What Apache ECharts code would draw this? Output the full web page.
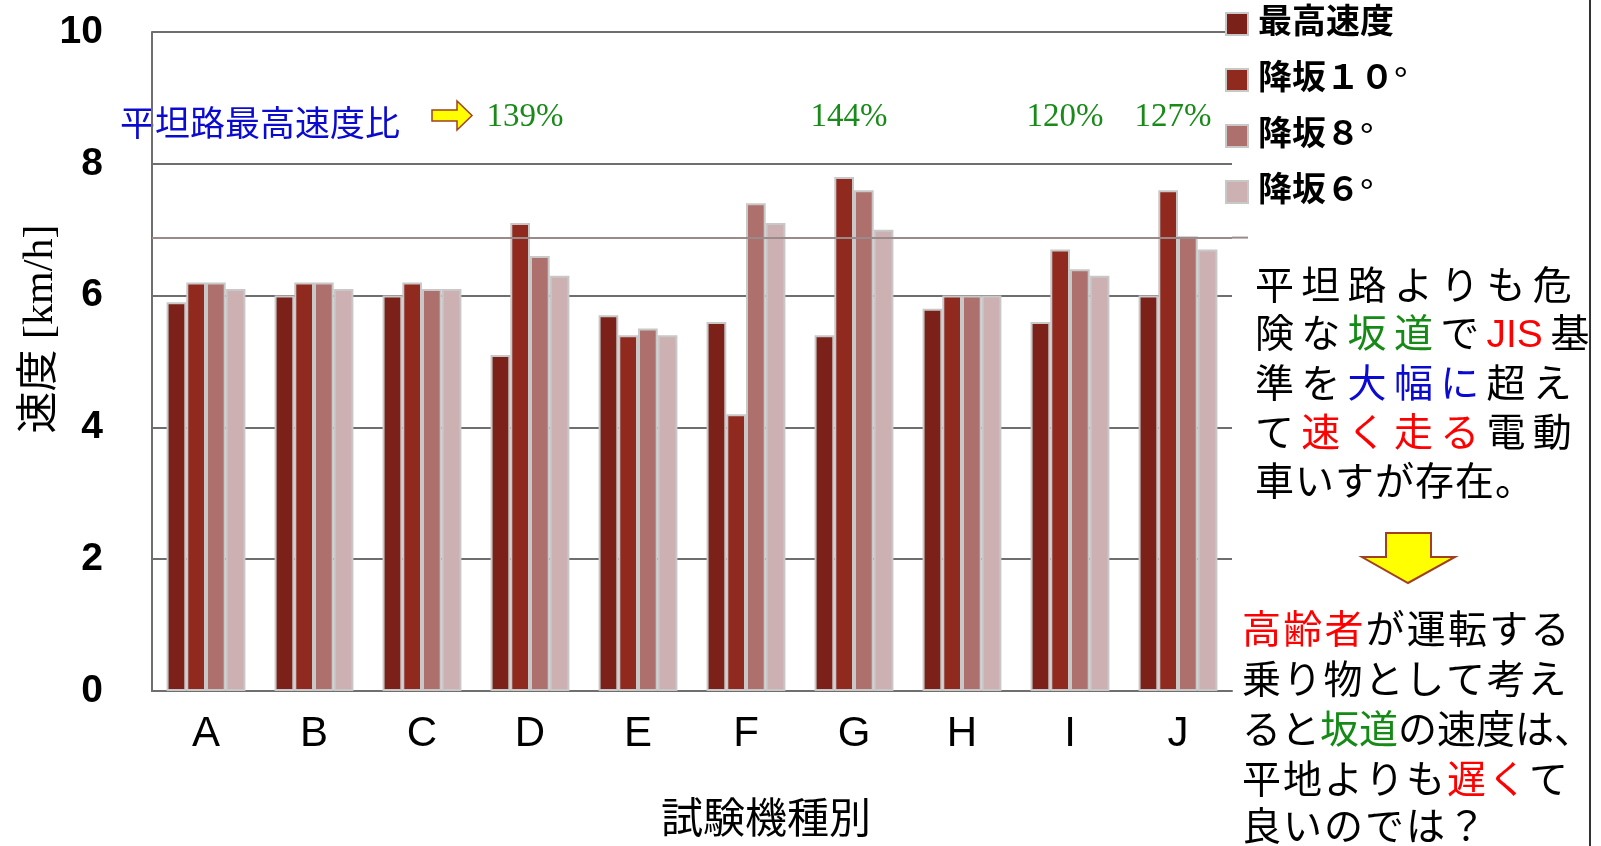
<!DOCTYPE html>
<html><head><meta charset="utf-8">
<script src="https://cdn.jsdelivr.net/npm/echarts@6/dist/echarts.min.js"></script>
<style>html,body{margin:0;padding:0;background:#fff}#c{width:1601px;height:846px}</style>
</head><body><div id="c"></div>
<script>
const categories = ['A','B','C','D','E','F','G','H','I','J'];
const seriesNames = ['最高速度','降坂１０°','降坂８°','降坂６°'];
const maxSpeed = [5.9,6.0,6.0,5.1,5.7,5.6,5.4,5.8,5.6,6.0];
const down10   = [6.2,6.2,6.2,7.1,5.4,4.2,7.8,6.0,6.7,7.6];
const down8    = [6.2,6.2,6.1,6.6,5.5,7.4,7.6,6.0,6.4,6.9];
const down6    = [6.1,6.1,6.1,6.3,5.4,7.1,7.0,6.0,6.3,6.7];
const referenceLine = 6.88;
const ratioCategories = ['D','G','I','J'];
const ratioLabels = ['139%','144%','120%','127%'];
const yMin = 0, yMax = 10, yInterval = 2;

const colors = ['#7b2119','#912a1e','#ad706c','#cdb0b1'];
const seriesData = [maxSpeed, down10, down8, down6];
const CJK = "'Noto Sans CJK JP'";
const SERIF = "'Liberation Serif','Noto Sans CJK JP'";
const SANS = "'Liberation Sans','Noto Sans CJK JP'";

const chart = echarts.init(document.getElementById('c'), null, {renderer:'canvas'});

const series = seriesNames.map((n,i)=>({
  name:n, type:'bar', data:seriesData[i],
  barGap:'0%', barCategoryGap:'27%',
  itemStyle:{color:colors[i], borderColor:'#c8c8c8', borderWidth:2},
  markLine: i===0 ? {symbol:'none', silent:true, label:{show:false},
    lineStyle:{color:'#9a8a8a', width:2, type:'solid'},
    data:[{yAxis:referenceLine}]} : undefined
}));

chart.setOption({
  animation:false,
  backgroundColor:'#fff',
  grid:{left:152, top:32, right:369, bottom:155, containLabel:false},
  legend:{
    orient:'vertical', left:1225, top:7, padding:0, itemWidth:22, itemHeight:22, itemGap:22,
    icon:'rect', data:seriesNames,
    textStyle:{fontSize:34, fontWeight:'bold', fontFamily:SERIF, color:'#000', padding:[0,0,0,5]}
  },
  xAxis:{type:'category', data:categories,
    axisLine:{lineStyle:{color:'#6e6e6e', width:2}},
    axisTick:{show:false},
    axisLabel:{fontSize:42, fontFamily:SANS, color:'#000', margin:22}
  },
  yAxis:{type:'value', min:yMin, max:yMax, interval:yInterval,
    axisLine:{show:true, lineStyle:{color:'#6e6e6e', width:2}},
    axisTick:{show:false},
    splitLine:{lineStyle:{color:'#6e6e6e', width:2}},
    axisLabel:{fontSize:39, fontWeight:'bold', fontFamily:SANS, color:'#000', margin:49}
  },
  series: series
});

const g = [];
g.push({type:'text', x:41, y:329, rotation:Math.PI/2,
  style:{text:'速度 [km/h]', fontSize:42, fontFamily:SERIF, fill:'#000', align:'center', verticalAlign:'middle'}});
g.push({type:'text', x:766, y:817,
  style:{text:'試験機種別', fontSize:42, fontFamily:CJK, fill:'#000', align:'center', verticalAlign:'middle'}});
g.push({type:'text', x:120, y:123,
  style:{text:'平坦路最高速度比', fontSize:35, fontFamily:CJK, fill:'#0a0ad0', align:'left', verticalAlign:'middle'}});
g.push({type:'polygon', shape:{points:[[432,110],[457,110],[457,101],[472,115.5],[457,130],[457,121],[432,121]]},
  style:{fill:'#ffff00', stroke:'#a04020', lineWidth:1.5}});
ratioCategories.forEach((c,i)=>{
  const p = chart.convertToPixel({xAxisIndex:0}, c);
  g.push({type:'text', x:p - 5, y:117,
    style:{text:ratioLabels[i], fontSize:33, fontFamily:SERIF, fill:'#1a8a1a', align:'center', verticalAlign:'middle'}});
});
const ry = chart.convertToPixel({yAxisIndex:0}, referenceLine);
g.push({type:'line', shape:{x1:1232, y1:ry, x2:1248, y2:ry}, style:{stroke:'#9a8a8a', lineWidth:2}});
g.push({type:'line', shape:{x1:1590, y1:0, x2:1590, y2:846}, style:{stroke:'#333', lineWidth:2}});
g.push({type:'polygon', shape:{points:[[1386,533],[1431,533],[1431,557],[1455,557],[1408,583],[1362,557],[1386,557]]},
  style:{fill:'#ffff00', stroke:'#a04020', lineWidth:2}});

const K='#000', R='#ff0000', G='#168a16', B='#0a0ad0';
function line(tokens, x0, pitch, y){
  let x = x0;
  tokens.forEach(t=>{
    const [txt,col,w] = t;
    for (const ch of (w ? [txt] : Array.from(txt))) {
      g.push({type:'text', x:x, y:y, style:{text:ch, fontSize:39, fontFamily:SANS, fill:col, align:'left', verticalAlign:'middle'}});
      x += w ? w : pitch;
    }
  });
}
line([['平坦路よりも危',K]], 1255, 46.3, 288);
line([['険な',K],['坂道',G],['で',K],['JIS',R,64],['基',K]], 1255, 46.3, 336);
line([['準を',K],['大幅に',B],['超え',K]], 1255, 46.3, 386);
line([['て',K],['速く走る',R],['電動',K]], 1255, 46.3, 435);
line([['車いすが存在。',K]], 1255, 40, 484);

line([['高齢者',R],['が運転する',K]], 1242, 41.2, 632);
line([['乗り物として考え',K]], 1242, 40.8, 682);
line([['ると',K],['坂道',G],['の速度は、',K]], 1242, 39, 732);
line([['平地よりも',K],['遅く',R],['て',K]], 1242, 41, 782);
line([['良いのでは？',K]], 1242, 41, 829);

chart.setOption({graphic:{elements:g}});
</script>
</body></html>
